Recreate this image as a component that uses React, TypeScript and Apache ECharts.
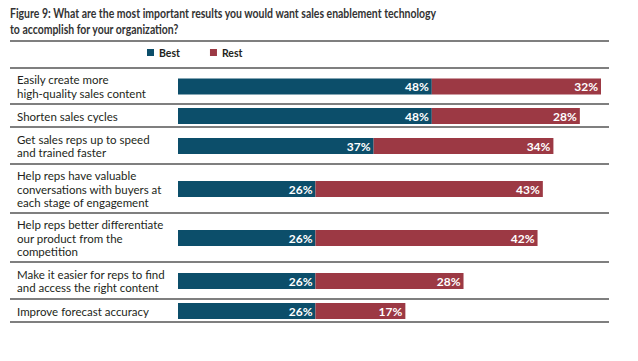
import React, { useEffect, useRef } from "react";
import * as echarts from "echarts";

const categories = [
  "Easily create more\nhigh-quality sales content",
  "Shorten sales cycles",
  "Get sales reps up to speed\nand trained faster",
  "Help reps have valuable\nconversations with buyers at\neach stage of engagement",
  "Help reps better differentiate\nour product from the\ncompetition",
  "Make it easier for reps to find\nand access the right content",
  "Improve forecast accuracy",
];
const best = [48, 48, 37, 26, 26, 26, 26];
const rest = [32, 28, 34, 43, 42, 28, 17];
const seriesNames = ["Best", "Rest"];
const titleLines = [
  "Figure 9: What are the most important results you would want sales enablement technology",
  "to accomplish for your organization?",
];
const colors = ["#0C4E6A", "#9C3944"];

// row boundaries (pixels)
const rowEdges = [68, 104, 127, 164, 213, 262, 299, 322];

export default function App() {
  const ref = useRef<HTMLDivElement>(null);
  useEffect(() => {
    document.body.style.margin = "0";
    if (!ref.current) return;
    const chart = echarts.init(ref.current, null, { renderer: "svg" });
    const grids: any[] = [];
    const xAxes: any[] = [];
    const yAxes: any[] = [];
    const series: any[] = [];
    categories.forEach((cat, i) => {
      const top = rowEdges[i] + 0.5;
      const h = rowEdges[i + 1] - rowEdges[i];
      grids.push({ left: 178, top, width: 423, height: h });
      xAxes.push({
        gridIndex: i,
        type: "value",
        min: 0,
        max: 80,
        show: false,
      });
      yAxes.push({
        gridIndex: i,
        type: "category",
        data: [cat],
        axisLine: { show: false },
        axisTick: { show: false },
        axisLabel: {
          align: "left",
          margin: 161,
          color: "#231F20",
          fontFamily: "Lato",
          fontSize: 11.5,
          lineHeight: 13.5,
        },
      });
      [best, rest].forEach((arr, k) => {
        series.push({
          name: seriesNames[k],
          type: "bar",
          xAxisIndex: i,
          yAxisIndex: i,
          stack: "s" + i,
          barWidth: 16,
          itemStyle: { color: colors[k] },
          label: {
            show: true,
            position: "insideRight",
            distance: 3,
            formatter: "{c}%",
            color: "#fff",
            fontFamily: "Lato",
            fontWeight: "bold",
            fontSize: 12,
          },
          data: [arr[i]],
        });
      });
    });

    const lineYs = [41, ...rowEdges];
    const graphic: any[] = lineYs.map((y) => ({
      type: "line",
      shape: { x1: 10, y1: y, x2: 609, y2: y },
      style: { stroke: "#555", lineWidth: 1.5 },
    }));
    titleLines.forEach((t, i) => {
      graphic.push({
        type: "text",
        x: 10,
        y: 6 + i * 16,
        scaleX: 0.776,
        style: {
          text: t,
          fontFamily: "Lato",
          fontWeight: "bold",
          fontSize: 13.5,
          fill: "#333",
          textVerticalAlign: "top",
        },
      });
    });

    chart.setOption({
      animation: false,
      legend: {
        data: seriesNames,
        left: 147,
        top: 47,
        padding: 0,
        itemWidth: 7,
        itemHeight: 7,
        itemGap: 30,
        itemTextGap: 4,
        icon: "rect",
        textStyle: {
          fontFamily: "Lato",
          fontWeight: "bold",
          fontSize: 10.5,
          color: "#231F20",
        },
      },
      grid: grids,
      xAxis: xAxes,
      yAxis: yAxes,
      series,
      graphic,
    });
    return () => chart.dispose();
  }, []);
  return <div ref={ref} style={{ width: 638, height: 361 }} />;
}
